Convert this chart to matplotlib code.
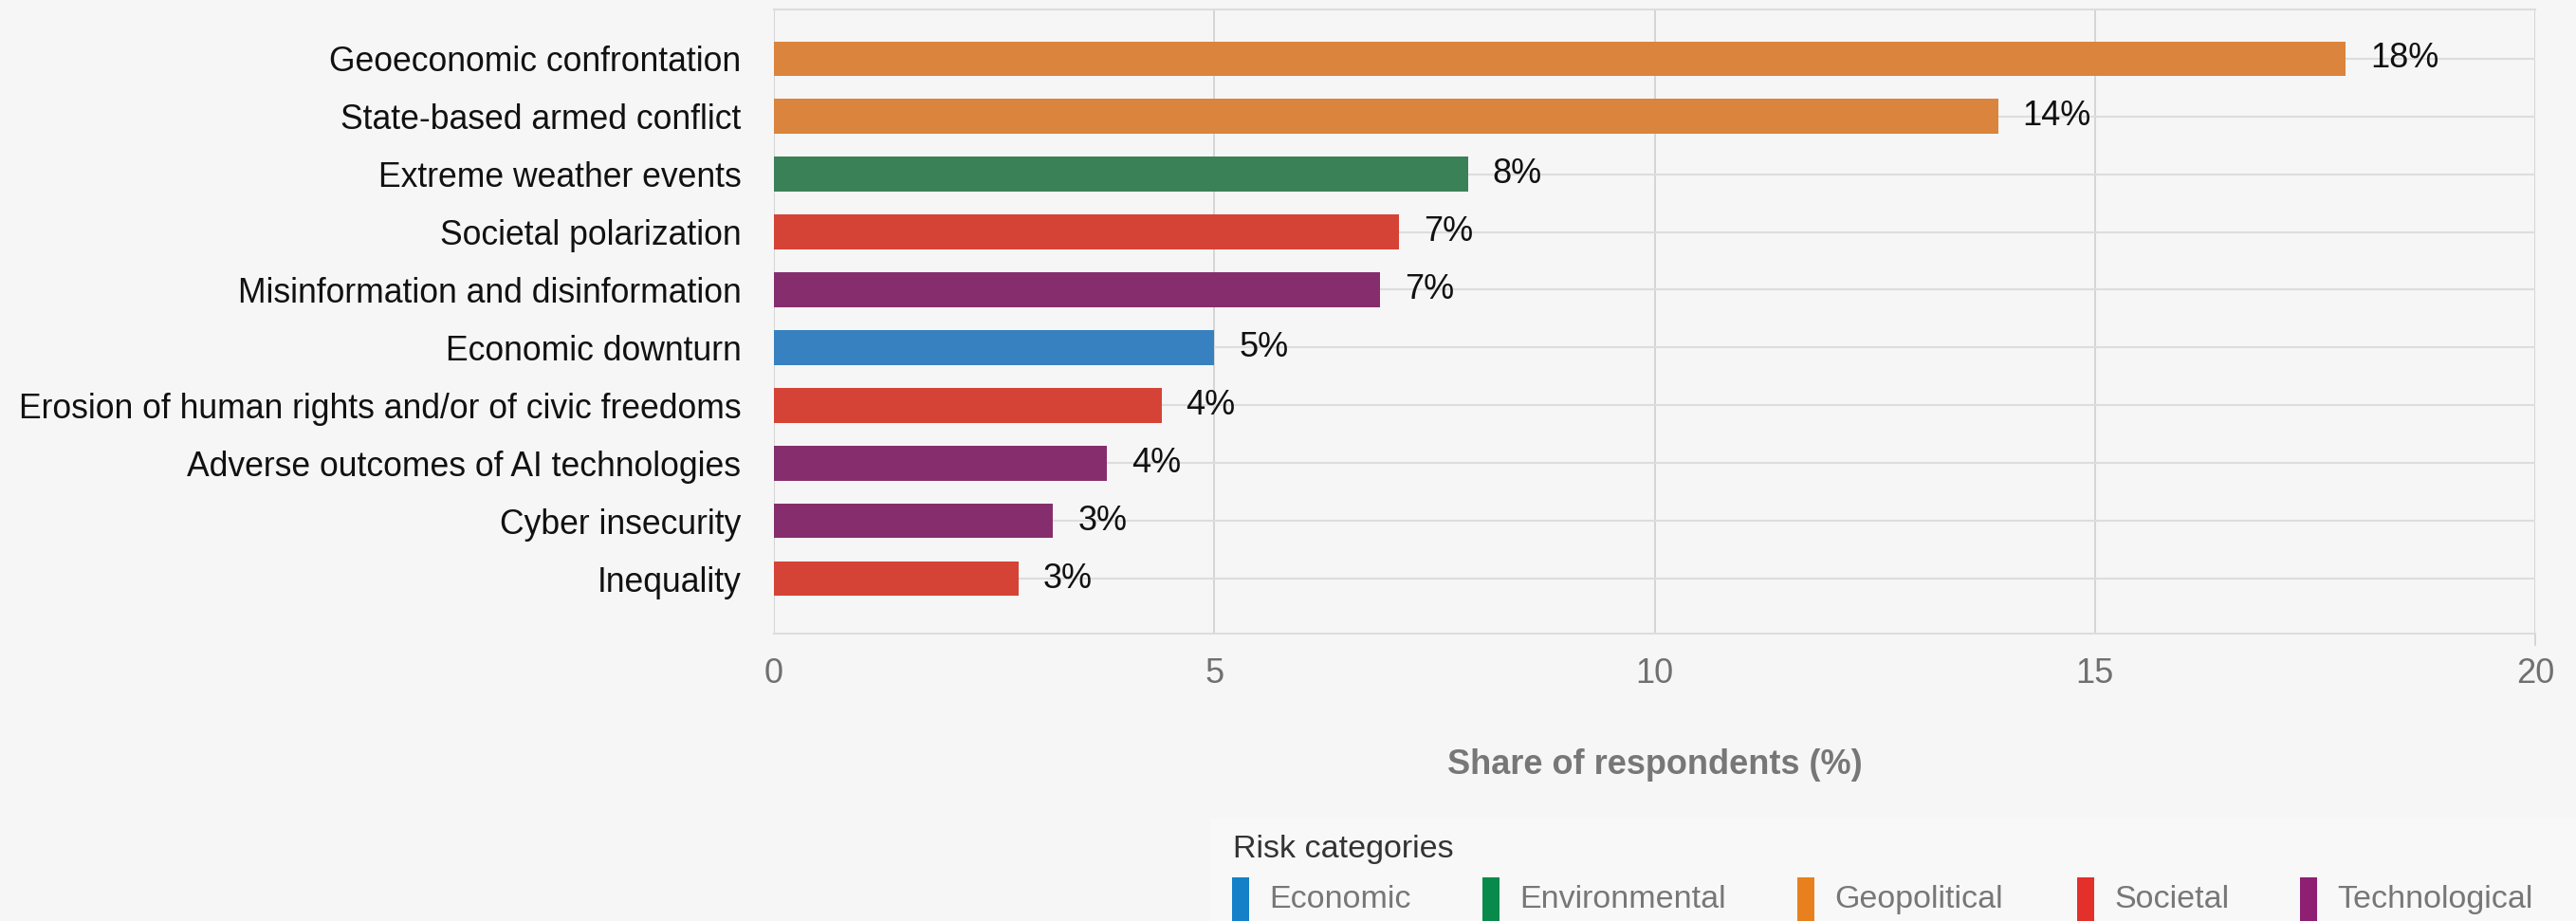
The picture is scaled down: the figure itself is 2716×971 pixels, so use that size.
import matplotlib
matplotlib.use("Agg")
import matplotlib.pyplot as plt
from matplotlib.patches import Rectangle

plt.rcParams['font.family'] = ['Liberation Sans', 'DejaVu Sans']

# ---- data ----
risks = ["Geoeconomic confrontation", "State-based armed conflict", "Extreme weather events",
         "Societal polarization", "Misinformation and disinformation", "Economic downturn",
         "Erosion of human rights and/or of civic freedoms", "Adverse outcomes of AI technologies",
         "Cyber insecurity", "Inequality"]
shares = [17.85, 13.9, 7.88, 7.1, 6.88, 5.0, 4.4, 3.78, 3.17, 2.78]
value_labels = ["18%", "14%", "8%", "7%", "7%", "5%", "4%", "4%", "3%", "3%"]
risk_category = ["Geopolitical", "Geopolitical", "Environmental", "Societal", "Technological",
                 "Economic", "Societal", "Technological", "Technological", "Societal"]
categories = ["Economic", "Environmental", "Geopolitical", "Societal", "Technological"]
x_ticks = [0, 5, 10, 15, 20]

bar_colors = {"Economic": "#3781C0", "Environmental": "#3A8157", "Geopolitical": "#DB843D",
              "Societal": "#D54336", "Technological": "#862E6D"}
legend_colors = {"Economic": "#1380C8", "Environmental": "#078A4A", "Geopolitical": "#E8801E",
                 "Societal": "#E3302B", "Technological": "#8E1F73"}

W, H = 2716, 971
BG = "#F6F6F6"
fig = plt.figure(figsize=(W / 100, H / 100), dpi=100, facecolor=BG)

def fx(px):
    return px / W

def fy(py):
    return 1 - py / H

ax_l, ax_r, ax_t, ax_b = 816, 2673, 10, 668
ax = fig.add_axes([fx(ax_l), fy(ax_b), (ax_r - ax_l) / W, (ax_b - ax_t) / H])
ax.set_facecolor(BG)

ypos = list(range(len(risks)))
ax.barh(ypos, shares, height=0.6, color=[bar_colors[c] for c in risk_category], zorder=3)
for y, v, lab in zip(ypos, shares, value_labels):
    ax.text(v + 0.28, y, lab, va="center", ha="left", fontsize=26, color="#111111", zorder=4)

ax.set_xlim(0, 20)
ax.set_ylim(9.95, -0.85)
ax.set_xticks(x_ticks)
ax.set_xticklabels([str(t) for t in x_ticks])
ax.set_yticks(ypos)
ax.set_yticklabels(risks)
ax.tick_params(axis="y", length=0, pad=25, labelsize=25.6, labelcolor="#111111")
ax.tick_params(axis="x", length=0, pad=18, labelsize=26, labelcolor="#707070")

ax.xaxis.grid(True, color="#CCCCCC", linewidth=1.1, zorder=0)
ax.yaxis.grid(True, color="#DDDDDD", linewidth=1.5, zorder=0)
for s in ["left", "right"]:
    ax.spines[s].set_visible(False)
for s in ["top", "bottom"]:
    ax.spines[s].set_color("#DDDDDD")
    ax.spines[s].set_linewidth(1.5)
# small tick at the end of the axis
ax.plot([20, 20], [9.95, 10.15], color="#CCCCCC", lw=1.1, clip_on=False)

fig.text(fx((ax_l + ax_r) / 2), fy(806), "Share of respondents (%)", ha="center", va="center",
         fontsize=26, fontweight="bold", color="#777777")

# ---- legend ----
fig.patches.append(Rectangle((fx(1277), 0), 1 - fx(1277), fy(863), transform=fig.transFigure,
                             facecolor="#F8F8F8", edgecolor="none", zorder=0))
fig.text(fx(1300), fy(895), "Risk categories", ha="left", va="center", fontsize=24.5, color="#333333")
sw_x = [1299, 1563, 1895, 2190, 2425]
for cat, sx in zip(categories, sw_x):
    fig.patches.append(Rectangle((fx(sx), 0), 18 / W, fy(925), transform=fig.transFigure,
                                 facecolor=legend_colors[cat], edgecolor="none", zorder=2))
    fig.text(fx(sx + 39), fy(948), cat, ha="left", va="center", fontsize=24.5, color="#777777")

fig.savefig("out.png", dpi=100, facecolor=BG)
